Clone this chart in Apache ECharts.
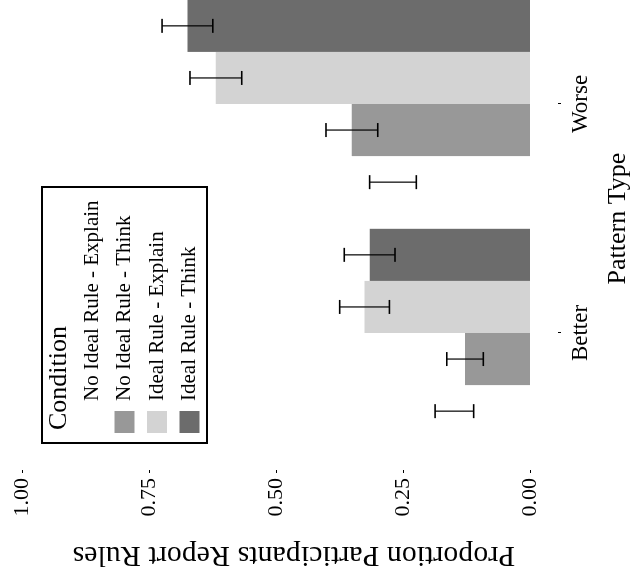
<!DOCTYPE html>
<html>
<head>
<meta charset="utf-8">
<script src="https://cdn.jsdelivr.net/npm/echarts@6/dist/echarts.min.js"></script>
<style>
  html, body { margin: 0; padding: 0; background: #fff; overflow: hidden; width: 636px; height: 586px; }
  /* the scanned figure is turned a quarter turn, so the chart is drawn upright and rotated */
  #chart {
    position: absolute;
    left: 0;
    top: 640px;
    width: 660px;
    height: 636px;
    transform-origin: 0 0;
    transform: rotate(-90deg);
  }
</style>
</head>
<body>
<div id="chart"></div>
<script>
const categories = ['Better', 'Worse']
const conditions = [
  'No Ideal Rule - Explain',
  'No Ideal Rule - Think',
  'Ideal Rule - Explain',
  'Ideal Rule - Think',
]
const noIdealExplain = [0.149, 0.270]
const noIdealThink = [0.128, 0.351]
const idealExplain = [0.326, 0.619]
const idealThink = [0.316, 0.675]

const noIdealExplainErr = [0.038, 0.046]
const noIdealThinkErr = [0.036, 0.051]
const idealExplainErr = [0.049, 0.051]
const idealThinkErr = [0.050, 0.050]

const yTicks = [0, 0.25, 0.5, 0.75, 1]

const colors = ['#ffffff', '#989898', '#d3d3d3', '#6c6c6c']
const font = 'Liberation Serif'
const catGap = 0.09

const means = [noIdealExplain, noIdealThink, idealExplain, idealThink]
const errs = [noIdealExplainErr, noIdealThinkErr, idealExplainErr, idealThinkErr]

const errData = []
means.forEach((m, k) => {
  m.forEach((v, i) => {
    errData.push([i, v - errs[k][i], v + errs[k][i], k])
  })
})

const chart = echarts.init(document.getElementById('chart'))

const barSeries = conditions.map((name, k) => ({
  name: name,
  type: 'bar',
  data: means[k],
  barGap: '0%',
  barCategoryGap: catGap * 100 + '%',
  itemStyle: { color: colors[k] },
  emphasis: { disabled: true },
}))

chart.setOption({
  animation: false,
  textStyle: { fontFamily: font, color: '#000' },
  title: {
    text: 'Condition',
    left: 210,
    top: 46,
    padding: 0,
    textStyle: { fontFamily: font, fontSize: 26, fontWeight: 'normal', color: '#000' },
  },
  graphic: [
    {
      type: 'rect',
      shape: { x: 197, y: 42, width: 256, height: 165 },
      style: { fill: 'none', stroke: '#000', lineWidth: 2 },
      z: 10,
    },
  ],
  legend: {
    orient: 'vertical',
    left: 207,
    top: 81.5,
    padding: 0,
    itemWidth: 22,
    itemHeight: 20,
    itemGap: 11.5,
    selectedMode: false,
    icon: 'rect',
    data: conditions,
    textStyle: { fontFamily: font, fontSize: 21, lineHeight: 21, color: '#000', padding: [0, 0, 0, 5] },
  },
  grid: { left: 192.5, right: 9.5, top: 22.5, bottom: 102.5 },
  xAxis: {
    type: 'category',
    data: categories,
    offset: 28,
    axisLine: { show: false, onZero: false },
    axisTick: { show: true, alignWithLabel: true, length: 3, lineStyle: { color: '#000' } },
    axisLabel: { margin: 11, fontSize: 23, fontFamily: font, color: '#000' },
    name: 'Pattern Type',
    nameLocation: 'middle',
    nameGap: 47,
    nameTextStyle: { fontSize: 26, fontFamily: font, color: '#000' },
  },
  yAxis: {
    type: 'value',
    min: 0,
    max: 1,
    interval: 0.25,
    offset: 22.5,
    axisLine: { show: false, onZero: false },
    axisTick: { show: true, length: 3, lineStyle: { color: '#000' } },
    splitLine: { show: false },
    axisLabel: {
      margin: 8,
      fontSize: 22,
      fontFamily: font,
      color: '#000',
      customValues: yTicks,
      formatter: (v) => v.toFixed(2),
    },
    name: 'Proportion Participants Report Rules',
    nameLocation: 'middle',
    nameRotate: 90,
    nameGap: 70,
    nameTextStyle: { fontSize: 30, fontFamily: font, color: '#000', padding: [0, 35, 0, 0] },
  },
  series: [
    ...barSeries,
    {
      type: 'custom',
      name: 'errors',
      data: errData,
      z: 5,
      encode: { x: 0, y: [1, 2] },
      renderItem: (params, api) => {
        const cat = api.value(0)
        const k = api.value(3)
        const band = api.size([1, 0])[0]
        const bw = (band * (1 - catGap)) / 4
        const off = (k - 1.5) * bw
        const lo = api.coord([cat, api.value(1)])
        const hi = api.coord([cat, api.value(2)])
        const x = lo[0] + off
        const cap = 7
        const st = { stroke: '#000', lineWidth: 1.6 }
        return {
          type: 'group',
          children: [
            { type: 'line', shape: { x1: x, y1: lo[1], x2: x, y2: hi[1] }, style: { stroke: '#000', lineWidth: 1.2 } },
            { type: 'line', shape: { x1: x - cap, y1: lo[1], x2: x + cap, y2: lo[1] }, style: st },
            { type: 'line', shape: { x1: x - cap, y1: hi[1], x2: x + cap, y2: hi[1] }, style: st },
          ],
        }
      },
    },
  ],
})
</script>
</body>
</html>
